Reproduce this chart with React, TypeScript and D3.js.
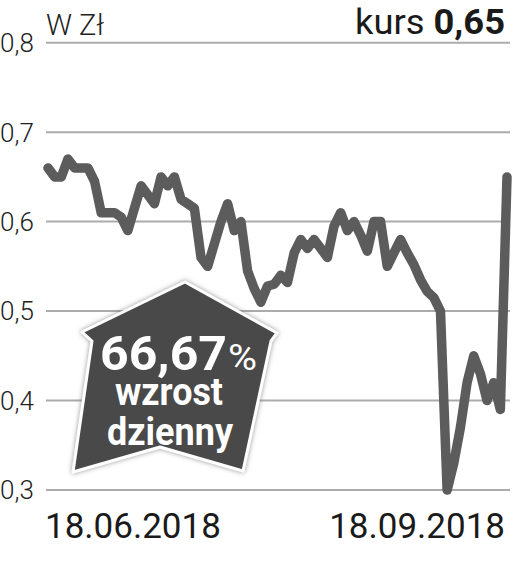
import React from "react";
import * as d3 from "d3";

const values: number[] = [
  0.66, 0.65, 0.65, 0.67, 0.66, 0.66, 0.66, 0.645, 0.61, 0.61,
  0.61, 0.605, 0.59, 0.615, 0.64, 0.63, 0.62, 0.65, 0.64, 0.65,
  0.625, 0.62, 0.615, 0.56, 0.55, 0.575, 0.6, 0.62, 0.59, 0.6,
  0.545, 0.525, 0.51, 0.528, 0.53, 0.54, 0.532, 0.565, 0.58, 0.57,
  0.58, 0.57, 0.56, 0.595, 0.61, 0.59, 0.6, 0.585, 0.567, 0.6,
  0.6, 0.55, 0.565, 0.58, 0.565, 0.552, 0.535, 0.522, 0.515, 0.5,
  0.3, 0.33, 0.37, 0.42, 0.45, 0.43, 0.4, 0.42, 0.39, 0.65,
];
const yTicks: number[] = [0.3, 0.4, 0.5, 0.6, 0.7, 0.8];
const yTickLabels: string[] = ["0,3", "0,4", "0,5", "0,6", "0,7", "0,8"];
const xLabels: string[] = ["18.06.2018", "18.09.2018"];
const unitLabel = "W Zł";
const kursLabel = "kurs";
const kursValue = "0,65";
const changeValue = "66,67";
const changeLine1 = "wzrost";
const changeLine2 = "dzienny";

const W = 514;
const H = 565;

export default function App() {
  const x = d3.scaleLinear().domain([0, values.length - 1]).range([48, 507]);
  const y = d3.scaleLinear().domain([0.3, 0.8]).range([490, 42.7]);
  const line = d3
    .line<number>()
    .x((_, i) => x(i))
    .y((d) => y(d));

  const arrow = [
    [185, 282],
    [277, 333],
    [271, 341],
    [243, 471],
    [160, 447],
    [73, 472],
    [92, 341],
    [82, 332],
  ];
  const arrowPath = "M" + arrow.map((p) => p.join(",")).join("L") + "Z";

  return (
    <svg
      width={W}
      height={H}
      style={{ position: "absolute", left: 0, top: 0, background: "#fff" }}
      fontFamily="Roboto, sans-serif"
    >
      <defs>
        <filter id="glow" x="-20%" y="-20%" width="140%" height="140%">
          <feDropShadow dx="0" dy="0" stdDeviation="2.5" floodColor="#777" floodOpacity="0.8" />
        </filter>
      </defs>
      {yTicks.map((t, i) => (
        <g key={t}>
          <line x1={46} x2={510} y1={y(t)} y2={y(t)} stroke="#ababab" strokeWidth={2} />
          <text
            x={0}
            y={y(t)}
            dy="0.36em"
            fontSize={26}
            fontWeight={300}
            fill="#222"
          >
            {yTickLabels[i]}
          </text>
        </g>
      ))}
      <text x={46} y={35} fontSize={29} fontWeight={300} fill="#222">
        {unitLabel}
      </text>
      <text x={355} y={34} fontSize={35} fill="#1a1a1a" textLength={150} lengthAdjust="spacingAndGlyphs">
        <tspan>{kursLabel} </tspan>
        <tspan fontWeight={700}>{kursValue}</tspan>
      </text>
      <path
        d={line(values) || ""}
        fill="none"
        stroke="#5c5c5c"
        strokeWidth={9.5}
        strokeLinejoin="round"
        strokeLinecap="round"
      />
      <path d={arrowPath} fill="#4a4a4a" stroke="#fff" strokeWidth={3} strokeLinejoin="round" filter="url(#glow)" />
      <text x={100} y={370} fontSize={48} fontWeight={700} fill="#fff" textLength={127} lengthAdjust="spacingAndGlyphs">
        {changeValue}
      </text>
      <text x={228} y={370} fontSize={37} fontWeight={400} fill="#fff" textLength={29} lengthAdjust="spacingAndGlyphs">
        %
      </text>
      <text x={115} y={405} fontSize={38} fontWeight={700} fill="#fff" textLength={108} lengthAdjust="spacingAndGlyphs">
        {changeLine1}
      </text>
      <text x={107} y={445} fontSize={39} fontWeight={700} fill="#fff" textLength={126} lengthAdjust="spacingAndGlyphs">
        {changeLine2}
      </text>
      <text x={45} y={538} fontSize={35} fill="#1a1a1a">
        {xLabels[0]}
      </text>
      <text x={505} y={538} textAnchor="end" fontSize={35} fill="#1a1a1a">
        {xLabels[1]}
      </text>
    </svg>
  );
}
